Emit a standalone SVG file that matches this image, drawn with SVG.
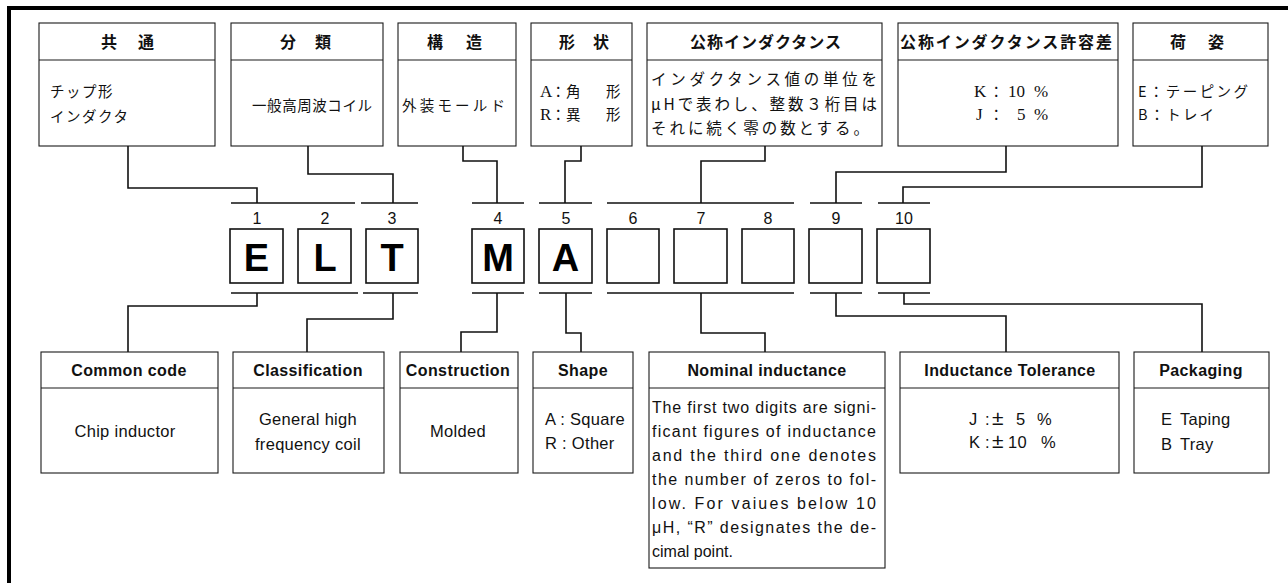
<svg xmlns="http://www.w3.org/2000/svg" width="1288" height="583" viewBox="0 0 1288 583">
<style>
.bx{fill:#fff;stroke:#1a1a1a;stroke-width:1.1}
.dv{stroke:#1a1a1a;stroke-width:1.1}
.nb{fill:#fff;stroke:#111;stroke-width:1.6}
.cn{fill:none;stroke:#111;stroke-width:1.6}
.jh{font-family:"Noto Sans CJK JP",sans-serif;font-weight:700;font-size:16px;fill:#111}
.jb{font-family:"Noto Sans CJK JP",sans-serif;font-weight:400;font-size:14.5px;fill:#111}
.lb{font-family:"Liberation Serif","Noto Sans CJK JP",serif;font-size:17px;fill:#111}
.eh{font-family:"Liberation Sans",Arial,sans-serif;font-weight:700;font-size:16px;letter-spacing:0.4px;fill:#111}
.eb{font-family:"Liberation Sans",Arial,sans-serif;font-size:16.5px;letter-spacing:0.3px;fill:#111}
.ep{font-family:"Liberation Sans",Arial,sans-serif;font-size:16px;fill:#111}
.pm{font-size:21px}
.num{font-family:"Liberation Sans",Arial,sans-serif;font-size:16px;fill:#111;text-anchor:middle}
.big{font-family:"Liberation Sans",Arial,sans-serif;font-weight:700;font-size:38px;fill:#000;text-anchor:middle}
.m{text-anchor:middle}
</style>
<rect width="1288" height="583" fill="#fff"/>
<g id="frame">
<line x1="7" y1="8" x2="1288" y2="8" stroke="#000" stroke-width="4"/>
<line x1="9" y1="6" x2="9" y2="583" stroke="#000" stroke-width="4"/>
</g>

<g id="top-common">
<rect class="bx" x="39" y="23" width="176" height="123"/>
<line class="dv" x1="39" y1="60" x2="215" y2="60"/>
<text class="jh m" y="48"><tspan x="109">共</tspan><tspan x="146">通</tspan></text>
<text class="jb" x="50" y="97" style="letter-spacing:1.5px">チップ形</text>
<text class="jb" x="50" y="122" style="letter-spacing:1.5px">インダクタ</text>
</g>
<g id="top-class">
<rect class="bx" x="231" y="23" width="152" height="123"/>
<line class="dv" x1="231" y1="60" x2="383" y2="60"/>
<text class="jh m" y="48"><tspan x="288">分</tspan><tspan x="323">類</tspan></text>
<text class="jb" x="252" y="111" textLength="120" lengthAdjust="spacing">一般高周波コイル</text>
</g>
<g id="top-constr">
<rect class="bx" x="398" y="23" width="118" height="123"/>
<line class="dv" x1="398" y1="60" x2="516" y2="60"/>
<text class="jh m" y="48"><tspan x="435">構</tspan><tspan x="474">造</tspan></text>
<text class="jb" x="402" y="111" textLength="103" lengthAdjust="spacing">外装モールド</text>
</g>
<g id="top-shape">
<rect class="bx" x="531" y="23" width="101" height="123"/>
<line class="dv" x1="531" y1="60" x2="632" y2="60"/>
<text class="jh m" y="48"><tspan x="567">形</tspan><tspan x="601">状</tspan></text>
<text class="jb" y="97"><tspan class="lb" x="540">A</tspan><tspan x="551">：</tspan><tspan x="566">角</tspan><tspan x="606">形</tspan></text>
<text class="jb" y="120"><tspan class="lb" x="540">R</tspan><tspan x="551">：</tspan><tspan x="566">異</tspan><tspan x="606">形</tspan></text>
</g>
<g id="top-nominal">
<rect class="bx" x="647" y="23" width="235" height="123"/>
<line class="dv" x1="647" y1="60" x2="882" y2="60"/>
<text class="jh" x="690" y="48" textLength="151" lengthAdjust="spacing">公称インダクタンス</text>
<text class="jb" x="651" y="85" style="font-size:15.5px" textLength="226" lengthAdjust="spacing">インダクタンス値の単位を</text>
<text class="jb" x="651" y="110" style="font-size:15.5px" textLength="226" lengthAdjust="spacing">μHで表わし、整数３桁目は</text>
<text class="jb" x="651" y="134" style="font-size:15.5px" textLength="218" lengthAdjust="spacing">それに続く零の数とする。</text>
</g>
<g id="top-tol">
<rect class="bx" x="898" y="23" width="220" height="123"/>
<line class="dv" x1="898" y1="60" x2="1118" y2="60"/>
<text class="jh" x="900" y="48" textLength="212" lengthAdjust="spacing">公称インダクタンス許容差</text>
<text class="lb" y="97"><tspan x="974">K</tspan><tspan class="jb" x="989">：</tspan><tspan x="1008">10</tspan><tspan x="1034">%</tspan></text>
<text class="lb" y="120"><tspan x="976">J</tspan><tspan class="jb" x="989">：</tspan><tspan x="1017">5</tspan><tspan x="1034">%</tspan></text>
</g>
<g id="top-pack">
<rect class="bx" x="1133" y="23" width="135" height="123"/>
<line class="dv" x1="1133" y1="60" x2="1268" y2="60"/>
<text class="jh m" y="48"><tspan x="1178">荷</tspan><tspan x="1216">姿</tspan></text>
<text class="jb" x="1138" y="97" textLength="110" lengthAdjust="spacing">E：テーピング</text>
<text class="jb" x="1138" y="120" textLength="76" lengthAdjust="spacing">B：トレイ</text>
</g>

<g id="code-boxes">
<text class="num" x="257" y="224">1</text>
<text class="num" x="325" y="224">2</text>
<text class="num" x="392" y="224">3</text>
<text class="num" x="498" y="224">4</text>
<text class="num" x="566" y="224">5</text>
<text class="num" x="633" y="224">6</text>
<text class="num" x="701" y="224">7</text>
<text class="num" x="768" y="224">8</text>
<text class="num" x="836" y="224">9</text>
<text class="num" x="904" y="224">10</text>
<g id="box1"><rect class="nb" x="230" y="229" width="53" height="54"/><text class="big" x="256.5" y="271">E</text></g>
<g id="box2"><rect class="nb" x="298" y="229" width="53" height="54"/><text class="big" x="325" y="271">L</text></g>
<g id="box3"><rect class="nb" x="366" y="229" width="52" height="54"/><text class="big" x="392" y="271">T</text></g>
<g id="box4"><rect class="nb" x="472" y="229" width="52" height="54"/><text class="big" x="498" y="271">M</text></g>
<g id="box5"><rect class="nb" x="539" y="229" width="53" height="54"/><text class="big" x="565.5" y="271">A</text></g>
<g id="box6"><rect class="nb" x="607" y="229" width="52" height="54"/></g>
<g id="box7"><rect class="nb" x="674" y="229" width="53" height="54"/></g>
<g id="box8"><rect class="nb" x="742" y="229" width="52" height="54"/></g>
<g id="box9"><rect class="nb" x="809" y="229" width="53" height="54"/></g>
<g id="box10"><rect class="nb" x="877" y="229" width="53" height="54"/></g>
</g>

<g id="connectors">
<path class="cn" d="M231,203H355M361,203H418M472,203H524M539,203H592M607,203H794M810,203H862M878,203H930"/>
<path class="cn" d="M231,293H358M363,293H418M472,293H524M539,293H592M607,293H794M810,293H862M878,293H930"/>
<path class="cn" d="M128,146V188H257V203"/>
<path class="cn" d="M308,146V174H393V203"/>
<path class="cn" d="M463,146V161H497V203"/>
<path class="cn" d="M581,146V161H565V203"/>
<path class="cn" d="M765,146V161H701V203"/>
<path class="cn" d="M1006,146V172H836V203"/>
<path class="cn" d="M1202,146V187H903V203"/>
<path class="cn" d="M257,293V306H128V352"/>
<path class="cn" d="M393,293V319H307V352"/>
<path class="cn" d="M497,293V332H461V352"/>
<path class="cn" d="M566,293V333H581V352"/>
<path class="cn" d="M701,293V333H765V352"/>
<path class="cn" d="M836,293V316H1006V352"/>
<path class="cn" d="M904,293V304H1202V352"/>
</g>

<g id="bot-common">
<rect class="bx" x="41" y="352" width="177" height="121"/>
<line class="dv" x1="41" y1="388" x2="218" y2="388"/>
<text class="eh m" x="129" y="376">Common code</text>
<text class="eb m" x="125" y="437">Chip inductor</text>
</g>
<g id="bot-class">
<rect class="bx" x="233" y="352" width="151" height="121"/>
<line class="dv" x1="233" y1="388" x2="384" y2="388"/>
<text class="eh m" x="308" y="376">Classification</text>
<text class="eb m" x="308" y="425">General high</text>
<text class="eb m" x="308" y="450">frequency coil</text>
</g>
<g id="bot-constr">
<rect class="bx" x="400" y="352" width="118" height="121"/>
<line class="dv" x1="400" y1="388" x2="518" y2="388"/>
<text class="eh m" x="458" y="376">Construction</text>
<text class="eb m" x="458" y="437">Molded</text>
</g>
<g id="bot-shape">
<rect class="bx" x="533" y="352" width="100" height="121"/>
<line class="dv" x1="533" y1="388" x2="633" y2="388"/>
<text class="eh m" x="583" y="376">Shape</text>
<text class="eb" x="545" y="425">A : Square</text>
<text class="eb" x="545" y="449">R : Other</text>
</g>
<g id="bot-nominal">
<rect class="bx" x="649" y="352" width="236" height="216"/>
<line class="dv" x1="649" y1="388" x2="885" y2="388"/>
<text class="eh m" x="767" y="376">Nominal inductance</text>
<text class="ep" x="652" y="413" textLength="224" lengthAdjust="spacing">The first two digits are signi-</text>
<text class="ep" x="652" y="437" textLength="224" lengthAdjust="spacing">ficant figures of inductance</text>
<text class="ep" x="652" y="461" textLength="224" lengthAdjust="spacing">and the third one denotes</text>
<text class="ep" x="652" y="485" textLength="224" lengthAdjust="spacing">the number of zeros to fol-</text>
<text class="ep" x="652" y="509" textLength="224" lengthAdjust="spacing">low. For vaiues below 10</text>
<text class="ep" x="652" y="533" textLength="224" lengthAdjust="spacing">μH, “R” designates the de-</text>
<text class="ep" x="652" y="557">cimal point.</text>
</g>
<g id="bot-tol">
<rect class="bx" x="900" y="352" width="219" height="121"/>
<line class="dv" x1="900" y1="388" x2="1119" y2="388"/>
<text class="eh m" x="1010" y="376">Inductance Tolerance</text>
<text class="eb" y="425"><tspan x="969">J</tspan><tspan x="985">:</tspan><tspan class="pm" x="992">±</tspan><tspan x="1016">5</tspan><tspan x="1037">%</tspan></text>
<text class="eb" y="448"><tspan x="969">K</tspan><tspan x="985">:</tspan><tspan class="pm" x="992">±</tspan><tspan x="1008">10</tspan><tspan x="1041">%</tspan></text>
</g>
<g id="bot-pack">
<rect class="bx" x="1134" y="352" width="135" height="121"/>
<line class="dv" x1="1134" y1="388" x2="1269" y2="388"/>
<text class="eh m" x="1201" y="376">Packaging</text>
<text class="eb" x="1161" y="425">E<tspan x="1180">Taping</tspan></text>
<text class="eb" x="1161" y="450">B<tspan x="1180">Tray</tspan></text>
</g>
</svg>
